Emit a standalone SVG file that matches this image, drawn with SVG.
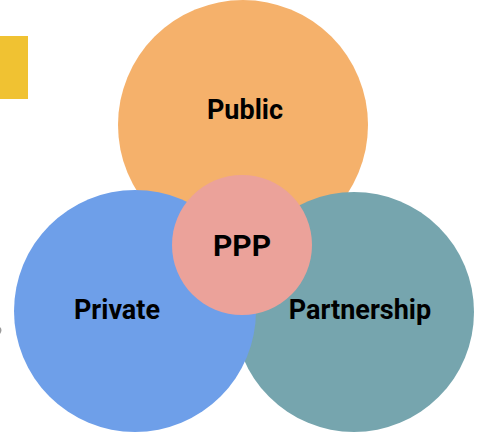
<svg xmlns="http://www.w3.org/2000/svg" width="477" height="436" viewBox="0 0 477 436">
  <style>
    .lbl { font-family: Roboto, "Liberation Sans", Arial, sans-serif; font-weight: bold; fill: #000; text-anchor: middle; font-size: 27px; }
    .big { font-size: 30px; }
  </style>
  <rect width="477" height="436" fill="#ffffff"/>
  <!-- accent bar -->
  <rect x="0" y="36" width="28" height="63" fill="#F0C232"/>
  <path d="M0 327 Q3 330 0 334 Z" fill="#9a9a9a"/>
  <g id="public">
    <circle cx="243" cy="125" r="125" fill="#F5B16B"/>
    <text class="lbl" x="245" y="119">Public</text>
  </g>
  <g id="partnership">
    <circle cx="354" cy="312" r="120" fill="#76A5AE"/>
    <text class="lbl" x="360" y="319">Partnership</text>
  </g>
  <g id="private">
    <circle cx="135" cy="311" r="121" fill="#6E9FE9"/>
    <text class="lbl" x="117" y="319">Private</text>
  </g>
  <g id="ppp">
    <circle cx="242" cy="245" r="70" fill="#EBA29A"/>
    <text class="lbl big" x="242" y="256">PPP</text>
  </g>
  <g id="connectors"/>
</svg>
